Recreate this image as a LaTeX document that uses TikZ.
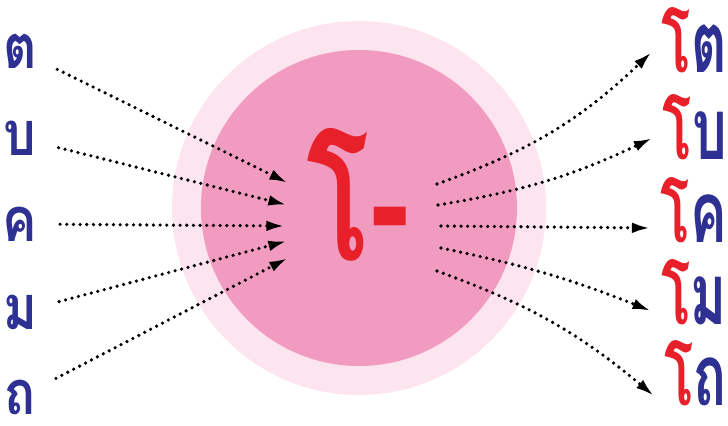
\documentclass[tikz,border=0pt]{standalone}
\usepackage{fontspec}
\usepackage{xcolor}
\usepackage{tikz}
\usetikzlibrary{arrows.meta, positioning, calc}
\newfontfamily\thaifont[Script=Thai]{Loma}
\definecolor{consblue}{HTML}{2E3192}
\definecolor{vowelred}{HTML}{E8202A}
\definecolor{pinkdisc}{HTML}{F29BC0}
\definecolor{pinkhalo}{HTML}{FCE5EF}
\tikzset{
    cons/.style={font=\thaifont\bfseries\fontsize{46}{46}\selectfont, text=consblue, inner sep=0pt,
        xscale=0.84, transform shape},
    word/.style={font=\thaifont\bfseries\fontsize{57}{57}\selectfont, inner sep=0pt, anchor=east,
        xscale=0.72, yscale=1.12, transform shape},
    vowel/.style={font=\thaifont\bfseries\fontsize{118}{118}\selectfont, text=vowelred, inner sep=0pt,
        xscale=0.75, yscale=1.1, transform shape},
    flow/.style={line width=2.7pt, line cap=round, dash pattern=on 0pt off 5pt,
        -{Latex[length=14pt, width=8pt]}}
}
\newcommand{\oword}[1]{\textcolor{vowelred}{โ}\textcolor{consblue}{#1}}

\begin{document}
\begin{tikzpicture}[x=0.75pt, y=-0.75pt]
    \useasboundingbox (0,0) rectangle (728,425);
    % disc
    \fill [pinkhalo] (359,208) circle (187);
    \fill [pinkdisc] (359,208) circle (158);
    \node [vowel] (vowel) at (358,195) {โ-};

    % consonants on the left
    \node [cons] (ta) at (20,51) {ต};
    \node [cons] (bo) at (20,138) {บ};
    \node [cons] (kho) at (20,224) {ค};
    \node [cons] (mo) at (20,312) {ม};
    \node [cons] (tho) at (20,397) {ถ};

    % words on the right
    \node [word] (to) at (727,40) {\oword{ต}};
    \node [word] (bou) at (727,127) {\oword{บ}};
    \node [word] (khou) at (727,210) {\oword{ค}};
    \node [word] (mou) at (727,292) {\oword{ม}};
    \node [word] (thou) at (727,373) {\oword{ถ}};

    \coordinate (in1) at (288,183);
    \coordinate (in2) at (287,205);
    \coordinate (in3) at (285,226);
    \coordinate (in4) at (287,241);
    \coordinate (in5) at (288,258);
    \coordinate (out1) at (437,184);
    \coordinate (out2) at (438,205);
    \coordinate (out3) at (441,226);
    \coordinate (out4) at (441,248);
    \coordinate (out5) at (437,271);

    \draw [flow, shorten <=17pt] (ta) -- (in1);
    \draw [flow, shorten <=17pt] (bo) -- (in2);
    \draw [flow, shorten <=17pt] (kho) -- (in3);
    \draw [flow, shorten <=17pt] (mo) -- (in4);
    \draw [flow, shorten <=17pt] (tho) -- (in5);

    \draw [flow] (out1) to [bend right=12] ($(to.west)+(-10,12)$);
    \draw [flow] (out2) to [bend right=8] ($(bou.west)+(-10,11)$);
    \draw [flow] (out3) -- ($(khou.west)+(-10,18)$);
    \draw [flow] (out4) to [bend left=5] ($(mou.west)+(-10,19)$);
    \draw [flow] (out5) to [bend left=10] ($(thou.west)+(-10,23)$);
\end{tikzpicture}
\end{document}
